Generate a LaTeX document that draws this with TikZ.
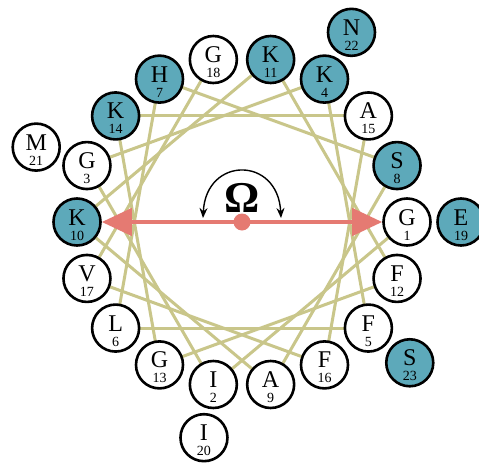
\documentclass[tikz,border=0pt]{standalone}
\usepackage{fontspec}
\setmainfont{Liberation Serif}
\usetikzlibrary{arrows.meta}
\definecolor{tealf}{RGB}{93,169,186}
\definecolor{olivel}{RGB}{201,198,138}
\definecolor{redar}{RGB}{229,122,114}
\tikzset{
  res/.style={circle, draw=black, line width=2.6pt, minimum size=47pt, inner sep=0pt},
  reslet/.style={anchor=base, inner sep=0pt, font=\fontsize{24}{24}\selectfont},
  resnum/.style={anchor=base, inner sep=0pt, font=\fontsize{14}{14}\selectfont},
  chord/.style={draw=olivel, line width=3pt},
  bigarrow/.style={draw=redar, line width=4.5pt, {Triangle[length=30pt,width=27pt]}-{Triangle[length=30pt,width=27pt]}},
  turn/.style={draw=black, line width=1.4pt, {Stealth[length=10pt,width=8pt]}-{Stealth[length=10pt,width=8pt]}}
}
\begin{document}
\begin{tikzpicture}[x=1pt,y=-1pt]
\useasboundingbox (0,0) rectangle (479,463);
\fill[white] (0,0) rectangle (479,463);
% positions
\foreach \n in {1,...,23} {
  \pgfmathsetmacro\ang{(\n-1)*100}
  \pgfmathsetmacro\rr{\n>18 ? 219 : 165}
  \coordinate (p\n) at ({242+\rr*cos(\ang)},{222+\rr*sin(\ang)});
}
% chords
\foreach \a/\b in {1/2,2/3,3/4,4/5,5/6,6/7,7/8,8/9,9/10,10/11,11/12,12/13,13/14,14/15,15/16,16/17,17/18}
  \draw[chord] (p\a) -- (p\b);
% residues
\foreach \n/\l/\f in {1/G/white,2/I/white,3/G/white,4/K/tealf,5/F/white,6/L/white,7/H/tealf,8/S/tealf,9/A/white,10/K/tealf,11/K/tealf,12/F/white,13/G/white,14/K/tealf,15/A/white,16/F/white,17/V/white,18/G/white,19/E/tealf,20/I/white,21/M/white,22/N/tealf,23/S/tealf} {
  \node[res, fill=\f] (r\n) at (p\n) {};
  \node[reslet] (l\n) at ([yshift=-3pt]p\n) {\l};
  \node[resnum] (m\n) at ([yshift=-18pt]p\n) {\n};
}
% moment arrow
\draw[bigarrow] (r10.east) -- (r1.west);
\node[circle, fill=redar, minimum size=17pt, inner sep=0pt] (dot) at (242,222) {};
\node[inner sep=0pt, font=\bfseries\fontsize{44}{44}\selectfont] (om) at (242,198) {Ω};
\coordinate (t1) at (203,218);
\coordinate (t2) at (281,218);
\draw[turn] (t1) .. controls (206,156) and (278,156) .. (t2);
\end{tikzpicture}
\end{document}
